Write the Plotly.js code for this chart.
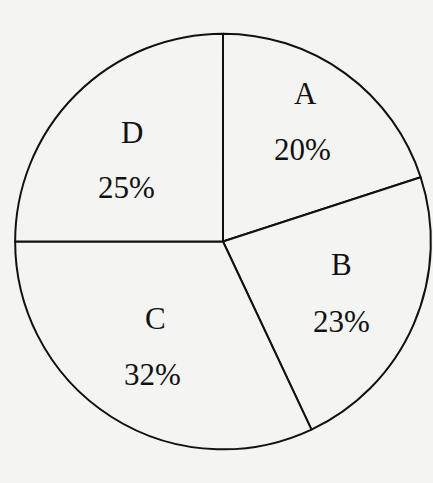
<!DOCTYPE html>
<html><head><meta charset="utf-8">
<script src="https://cdn.plot.ly/plotly-3.0.1.min.js"></script>
<style>html,body{margin:0;padding:0;background:#f4f4f2;}#chart{width:433px;height:483px;}</style>
</head><body><div id="chart"></div>
<script>
const categories = ['A', 'B', 'C', 'D'];
const shares = [20, 23, 32, 25];

const W = 433, H = 483;
// label placement (pixels) for each slice: [labelX, labelY, pctX, pctY]
const labelPos = [[305, 93, 302, 149], [341, 264, 341, 321], [155, 318, 152, 374], [132, 132, 127, 188]];

const trace = {
  type: 'pie',
  labels: categories,
  values: shares,
  sort: false,
  direction: 'clockwise',
  rotation: 0,
  marker: {colors: categories.map(() => '#f4f4f2'), line: {color: '#111', width: 2}},
  textinfo: 'none',
  showlegend: false,
  hoverinfo: 'none',
  domain: {x: [0.035, 0.995], y: [0.0, 1.0]}
};

const font = {family: 'Liberation Serif, Times New Roman, serif', size: 31, color: '#111'};
const annotations = [];
categories.forEach((c, i) => {
  const p = labelPos[i];
  annotations.push({xref: 'paper', yref: 'paper', x: p[0] / W, y: 1 - p[1] / H, text: c,
    showarrow: false, xanchor: 'center', yanchor: 'middle', font: font});
  annotations.push({xref: 'paper', yref: 'paper', x: p[2] / W, y: 1 - p[3] / H, text: shares[i] + '%',
    showarrow: false, xanchor: 'center', yanchor: 'middle', font: font});
});

Plotly.newPlot('chart', [trace], {
  width: W, height: H,
  margin: {l: 0, r: 0, t: 0, b: 0},
  paper_bgcolor: '#f4f4f2',
  plot_bgcolor: '#f4f4f2',
  showlegend: false,
  annotations: annotations
}, {displayModeBar: false, staticPlot: true});
</script></body></html>
